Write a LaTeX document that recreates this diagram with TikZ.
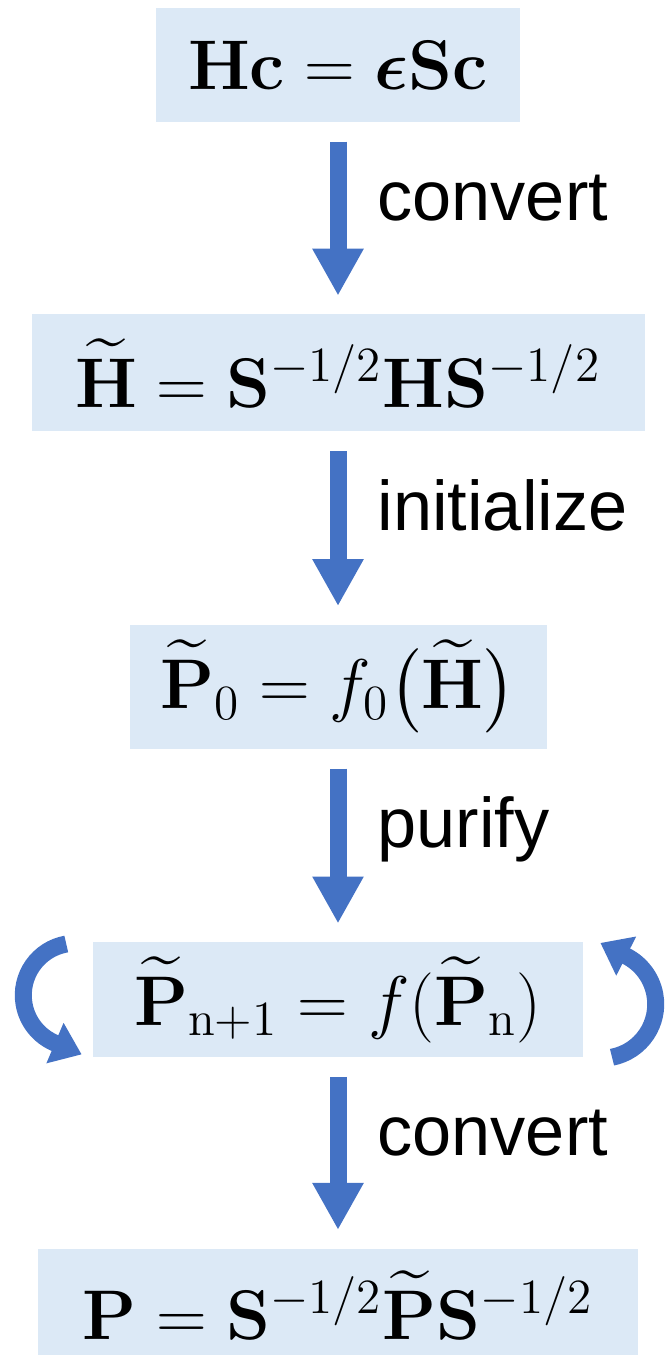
\RequirePackage{fix-cm}
\documentclass[tikz,border=0pt]{standalone}
\usepackage{amsmath,amssymb}
\usepackage[no-math]{fontspec}
\newfontfamily\lblfont{Liberation Sans}
\usepackage{xcolor}
\definecolor{boxfill}{RGB}{220,233,246}
\definecolor{arrowblue}{RGB}{68,114,196}
\usepackage{tikz}
\usetikzlibrary{arrows.meta,positioning,calc}
\tikzset{
  eq/.style={fill=boxfill,inner sep=0pt,minimum height=1.15cm,%
    font=\fontsize{20}{24}\selectfont},
  flow/.style={-{Triangle[width=4.8mm,length=4.7mm]},line width=1.7mm,%
    draw=arrowblue,shorten <=1.9mm,shorten >=1.8mm},
  lbl/.style={font=\lblfont\fontsize{20}{24}\selectfont,inner sep=0pt,%
    text height=0.75em,text depth=0.2em},
  iter/.style={-{Triangle[width=4.2mm,length=2.9mm]},line width=1.7mm,draw=arrowblue},
}

\begin{document}
\begin{tikzpicture}
\useasboundingbox (0,0) rectangle (6.65,-13.55);
\node[eq,minimum width=3.64cm,minimum height=1.14cm] (hc) at (3.38,-0.65) {$\mathbf{Hc}=\boldsymbol{\epsilon}\mathbf{Sc}$};
\node[eq,minimum width=6.13cm,minimum height=1.17cm,below=1.91cm of hc] (ht) {$\widetilde{\mathbf{H}}=\mathbf{S}^{-1/2}\mathbf{H}\mathbf{S}^{-1/2}$};
\node[eq,minimum width=4.17cm,minimum height=1.24cm,below=1.92cm of ht] (p0) {$\widetilde{\mathbf{P}}_0=f_0\bigl(\widetilde{\mathbf{H}}\bigr)$};
\node[eq,minimum width=4.90cm,minimum height=1.15cm,below=1.92cm of p0] (pn) {$\widetilde{\mathbf{P}}_{\mathrm{n+1}}=f(\widetilde{\mathbf{P}}_{\mathrm{n}})$};
\node[eq,minimum width=6.00cm,minimum height=1.12cm,below=1.90cm of pn] (p) {$\mathbf{P}=\mathbf{S}^{-1/2}\widetilde{\mathbf{P}}\mathbf{S}^{-1/2}$};
\draw[flow] (hc) -- node[lbl,pos=0.46,right=3.1mm]{convert} (ht);
\draw[flow] (ht) -- node[lbl,pos=0.46,right=3.1mm]{initialize} (p0);
\draw[flow] (p0) -- node[lbl,pos=0.46,right=3.1mm]{purify} (pn);
\draw[flow] (pn) -- node[lbl,pos=0.46,right=3.1mm]{convert} (p);
% iteration loops
\draw[iter] ([shift={(-0.17,0.045)}]pn.west) ++(100:0.52)
  arc[start angle=100,end angle=247,radius=0.52] -- ++(337:0.29);
\draw[iter] ([shift={(0.18,-0.045)}]pn.east) ++(-79:0.54)
  arc[start angle=-79,end angle=63,radius=0.54] -- ++(153:0.29);
\end{tikzpicture}
\end{document}
